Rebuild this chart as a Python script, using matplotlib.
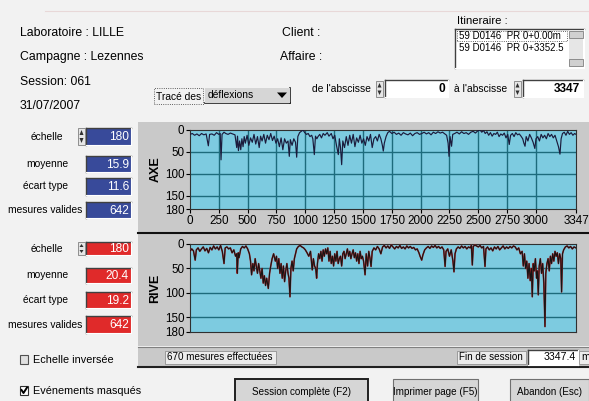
import matplotlib
matplotlib.use("Agg")
import matplotlib.pyplot as plt
from matplotlib.patches import Rectangle, Polygon

# ---------------- data ----------------
axe_x = [0, 20, 40, 60, 80, 100, 120, 140, 159, 170, 190, 210, 230, 250, 262, 269, 278, 295, 310, 330,
         350, 370, 390, 405, 412, 420, 430, 440, 450, 460, 470, 480, 495, 510, 525, 540, 555, 570, 585, 600,
         612, 625, 640, 655, 670, 685, 700, 715, 730, 745, 760, 775, 790, 805, 820, 835, 850, 861, 870, 885,
         900, 915, 925, 935, 950, 965, 980, 995, 1010, 1025, 1040, 1055, 1065, 1078, 1088, 1100, 1110, 1125, 1140, 1155,
         1170, 1190, 1205, 1225, 1240, 1255, 1270, 1286, 1295, 1305, 1315, 1325, 1340, 1355, 1370, 1385, 1400, 1415, 1430, 1445,
         1460, 1475, 1490, 1505, 1520, 1535, 1550, 1565, 1580, 1595, 1610, 1625, 1640, 1655, 1668, 1676, 1685, 1700, 1715, 1730,
         1750, 1770, 1790, 1810, 1830, 1850, 1870, 1890, 1910, 1930, 1950, 1970, 1990, 2010, 2030, 2050, 2070, 2090, 2110, 2130,
         2150, 2170, 2190, 2210, 2225, 2238, 2246, 2255, 2268, 2278, 2295, 2315, 2335, 2355, 2375, 2395, 2415, 2435, 2455, 2475,
         2495, 2515, 2530, 2545, 2560, 2575, 2590, 2605, 2620, 2635, 2650, 2665, 2680, 2695, 2710, 2725, 2740, 2755, 2768, 2780,
         2795, 2810, 2825, 2840, 2855, 2870, 2885, 2895, 2905, 2915, 2930, 2945, 2960, 2975, 2990, 3000, 3015, 3030, 3045, 3060,
         3075, 3090, 3105, 3120, 3135, 3150, 3165, 3180, 3195, 3208, 3218, 3230, 3245, 3260, 3275, 3290, 3305, 3320, 3335, 3347]
axe_y = [10, 8, 12, 9, 13, 8, 11, 9, 36, 10, 9, 12, 6, 10, 8, 68, 10, 5, 8, 10,
         7, 9, 11, 40, 14, 47, 25, 45, 20, 38, 15, 30, 12, 35, 18, 28, 10, 32, 15, 40,
         14, 25, 10, 30, 12, 22, 8, 24, 14, 30, 20, 38, 18, 45, 20, 30, 25, 60, 22, 35,
         20, 28, 62, 15, 6, 3, 0, 6, 10, 8, 15, 12, 20, 56, 14, 20, 15, 10, 18, 8,
         12, 6, 14, 8, 20, 12, 35, 56, 20, 40, 79, 25, 40, 15, 35, 12, 30, 10, 38, 18,
         28, 12, 30, 20, 35, 15, 25, 10, 40, 20, 15, 25, 10, 20, 35, 48, 30, 15, 6, 3,
         8, 5, 10, 7, 12, 6, 9, 11, 7, 13, 8, 6, 10, 8, 5, 9, 6, 11, 5, 8,
         4, 7, 5, 9, 12, 30, 60, 15, 37, 10, 8, 5, 9, 4, 8, 6, 10, 5, 3, 7,
         2, 0, 5, 1, 8, 4, 12, 6, 14, 8, 10, 5, 15, 9, 12, 7, 18, 10, 33, 12,
         8, 15, 6, 11, 9, 14, 20, 30, 37, 15, 25, 10, 18, 28, 42, 20, 15, 25, 10, 18,
         12, 20, 8, 15, 10, 18, 12, 25, 38, 55, 20, 8, 5, 12, 3, 10, 6, 12, 8, 10]

rive_x = [0, 15, 30, 45, 55, 70, 85, 100, 115, 130, 145, 160, 175, 190, 205, 220, 235, 250, 265, 280,
          295, 305, 320, 335, 350, 365, 380, 395, 405, 410, 418, 425, 440, 455, 470, 485, 500, 515, 525, 534,
          545, 555, 565, 575, 585, 595, 605, 615, 625, 635, 645, 655, 665, 679, 690, 700, 712, 725, 740, 750,
          760, 770, 780, 790, 800, 810, 820, 830, 840, 850, 858, 867, 875, 885, 895, 905, 915, 925, 940, 955,
          970, 985, 1000, 1015, 1030, 1045, 1060, 1070, 1080, 1090, 1098, 1105, 1115, 1125, 1135, 1145, 1155, 1165, 1175, 1185,
          1195, 1205, 1215, 1225, 1235, 1245, 1255, 1265, 1275, 1285, 1295, 1305, 1315, 1325, 1335, 1345, 1355, 1365, 1375, 1385,
          1395, 1405, 1415, 1425, 1435, 1445, 1455, 1465, 1475, 1485, 1495, 1505, 1518, 1528, 1540, 1550, 1560, 1570, 1580, 1595,
          1610, 1625, 1640, 1655, 1670, 1685, 1700, 1715, 1730, 1745, 1760, 1775, 1790, 1805, 1820, 1835, 1850, 1865, 1880, 1895,
          1910, 1925, 1940, 1955, 1970, 1985, 1995, 2009, 2020, 2035, 2050, 2065, 2080, 2095, 2110, 2125, 2140, 2155, 2170, 2185,
          2200, 2212, 2220, 2235, 2250, 2265, 2280, 2289, 2298, 2310, 2325, 2340, 2355, 2370, 2385, 2400, 2415, 2430, 2440, 2448,
          2456, 2470, 2485, 2500, 2515, 2530, 2545, 2558, 2566, 2580, 2595, 2610, 2625, 2640, 2655, 2670, 2685, 2700, 2715, 2730,
          2745, 2760, 2775, 2790, 2805, 2820, 2835, 2850, 2865, 2880, 2890, 2900, 2910, 2920, 2930, 2940, 2950, 2960, 2968, 2976,
          2985, 2995, 3005, 3012, 3020, 3028, 3038, 3048, 3058, 3068, 3078, 3085, 3095, 3105, 3115, 3125, 3135, 3145, 3155, 3165,
          3175, 3185, 3195, 3205, 3215, 3222, 3230, 3240, 3255, 3270, 3285, 3300, 3315, 3330, 3347]
rive_y = [15, 10, 14, 33, 12, 8, 15, 10, 6, 14, 9, 18, 7, 12, 4, 10, 6, 12, 3, 15,
          40, 8, 6, 10, 8, 18, 12, 25, 20, 60, 18, 28, 10, 5, 8, 4, 10, 20, 35, 63,
          40, 55, 30, 45, 60, 40, 55, 70, 50, 80, 65, 85, 70, 91, 60, 45, 30, 20, 35, 25,
          50, 30, 60, 40, 70, 45, 77, 55, 40, 60, 70, 108, 50, 35, 55, 30, 20, 10, 5, 3,
          6, 8, 12, 18, 25, 15, 53, 30, 45, 50, 70, 40, 20, 30, 15, 35, 12, 25, 10, 20,
          8, 35, 15, 40, 25, 45, 20, 35, 15, 40, 30, 25, 45, 20, 15, 30, 20, 10, 25, 15,
          30, 20, 12, 28, 18, 35, 20, 40, 15, 30, 25, 35, 63, 20, 45, 15, 28, 46, 15, 8,
          12, 5, 10, 20, 6, 3, 8, 4, 9, 2, 6, 10, 5, 8, 3, 9, 6, 10, 4, 8,
          5, 9, 7, 12, 10, 18, 25, 33, 22, 12, 8, 5, 9, 4, 7, 3, 8, 5, 9, 6,
          12, 46, 15, 10, 25, 12, 35, 57, 20, 10, 6, 9, 4, 8, 5, 10, 6, 8, 3, 43,
          5, 2, 4, 6, 3, 8, 5, 46, 10, 6, 12, 8, 14, 6, 10, 5, 12, 8, 4, 10,
          6, 9, 5, 8, 4, 6, 12, 8, 20, 15, 45, 20, 50, 35, 70, 40, 75, 50, 108, 40,
          55, 30, 70, 55, 104, 45, 30, 60, 40, 80, 169, 60, 40, 30, 55, 25, 40, 20, 35, 15,
          25, 18, 40, 20, 30, 98, 20, 12, 6, 4, 8, 5, 10, 6, 8]

x_ticks = [0, 250, 500, 750, 1000, 1250, 1500, 1750, 2000, 2250, 2500, 2750, 3000, 3347]
y_ticks = [0, 50, 100, 150, 180]
x_max = 3347
y_max = 180

# ---------------- figure helpers ----------------
W, H = 589, 401
fig = plt.figure(figsize=(W / 100, H / 100), dpi=100)
fig.patch.set_facecolor('#f2f2f2')
FONT = 'Liberation Sans'


def fx(x):
    return x / W


def fy(y):
    return 1 - y / H


def rect(x0, y0, x1, y1, fc='none', ec='none', lw=0.8, ls='-', z=1):
    r = Rectangle((fx(x0), fy(y1)), (x1 - x0) / W, (y1 - y0) / H, transform=fig.transFigure,
                  facecolor=fc, edgecolor=ec, linewidth=lw, linestyle=ls, zorder=z)
    fig.patches.append(r)
    return r


def hline(x0, x1, y, color='black', lw=1.0, z=2):
    fig.add_artist(plt.Line2D([fx(x0), fx(x1)], [fy(y), fy(y)], transform=fig.transFigure,
                              color=color, lw=lw, zorder=z))


def vline(x, y0, y1, color='black', lw=1.0, z=2):
    fig.add_artist(plt.Line2D([fx(x), fx(x)], [fy(y0), fy(y1)], transform=fig.transFigure,
                              color=color, lw=lw, zorder=z))


def txt(x, y, s, ha='left', va='center', size=7.6, color='black', weight='normal', z=5, rot=0):
    fig.text(fx(x), fy(y), s, ha=ha, va=va, fontsize=size, color=color, fontweight=weight,
             family=[FONT, 'DejaVu Sans'], zorder=z, rotation=rot)


def sunken(x0, y0, x1, y1, fc='white'):
    rect(x0, y0, x1, y1, fc=fc, ec='none', z=2)
    hline(x0, x1, y0, color='#404040', lw=1.0, z=3)
    vline(x0, y0, y1, color='#404040', lw=1.0, z=3)
    hline(x0, x1, y1, color='#ffffff', lw=0.8, z=3)
    vline(x1, y0, y1, color='#ffffff', lw=0.8, z=3)


def spinner(x, y0, y1):
    rect(x, y0, x + 7, y1, fc='#e6e6e6', ec='#808080', lw=0.6, z=3)
    ym = (y0 + y1) / 2
    fig.patches.append(Polygon([[fx(x + 1.5), fy(ym - 1.5)], [fx(x + 5.5), fy(ym - 1.5)], [fx(x + 3.5), fy(y0 + 2)]],
                               closed=True, transform=fig.transFigure, facecolor='#303030', edgecolor='none', zorder=4))
    fig.patches.append(Polygon([[fx(x + 1.5), fy(ym + 1.5)], [fx(x + 5.5), fy(ym + 1.5)], [fx(x + 3.5), fy(y1 - 2)]],
                               closed=True, transform=fig.transFigure, facecolor='#303030', edgecolor='none', zorder=4))


# ---------------- header ----------------
hline(45, 589, 11, color='#e8d8d8', lw=0.8)
HS = 8.8
txt(20, 33, 'Laboratoire : LILLE', size=HS)
txt(20, 57, 'Campagne : Lezennes', size=HS)
txt(20, 82, 'Session: 061', size=HS)
txt(20, 106, '31/07/2007', size=HS)
txt(282, 33, 'Client :', size=HS)
txt(280, 57, 'Affaire :', size=HS)
txt(457, 21, 'Itineraire :', size=8.2)

# itinerary listbox
sunken(455, 29, 584, 68)
rect(457, 30.5, 567, 41, fc='none', ec='#303030', lw=0.6, ls=':', z=4)
txt(459, 36, '59 D0146  PR 0+0.00m', size=7.0)
txt(459, 48, '59 D0146  PR 0+3352.5', size=7.0)
rect(569, 30, 583, 67, fc='#e6e6e6', ec='none', z=3)
rect(569, 31, 583, 38, fc='#d0d0d0', ec='#808080', lw=0.6, z=4)
rect(569, 59, 583, 66, fc='#d0d0d0', ec='#808080', lw=0.6, z=4)

# trace selector
rect(154, 88, 203, 104, fc='none', ec='#303030', lw=0.6, ls=':', z=3)
txt(156, 96.5, 'Tracé des', size=7.4)
rect(205, 88, 290, 103, fc='#d6d6d6', ec='none', z=2)
hline(205, 290, 103, color='#202020', lw=1.2)
vline(290, 88, 103, color='#202020', lw=1.2)
txt(208, 95.5, 'déflexions', size=7.4)
fig.patches.append(Polygon([[fx(277), fy(92.5)], [fx(287), fy(92.5)], [fx(282), fy(98)]], closed=True,
                           transform=fig.transFigure, facecolor='black', edgecolor='none', zorder=4))

txt(312, 89, "de l'abscisse", size=7.4)
spinner(376, 81, 97)
sunken(385, 80, 448, 97)
txt(445, 89, '0', ha='right', weight='bold', size=8.6)
txt(454, 89, "à l'abscisse", size=7.4)
spinner(514, 81, 97)
sunken(523, 80, 583, 97)
txt(580, 89, '3347', ha='right', weight='bold', size=8.6)

# ---------------- left statistic boxes ----------------
BLUE = '#384a9a'
RED = '#e02a2a'
stat_labels = ['échelle', 'moyenne', 'écart type', 'mesures valides']
axe_stats = ['180', '15.9', '11.6', '642']
rive_stats = ['180', '20.4', '19.2', '642']
axe_rows = [(128, 145), (156, 172), (178, 195), (202, 218)]
rive_rows = [(242, 255), (268, 283), (292, 308), (316, 333)]
label_right = [63, 68, 68, 82]

for rows, vals, col in [(axe_rows, axe_stats, BLUE), (rive_rows, rive_stats, RED)]:
    for i, ((y0, y1), v) in enumerate(zip(rows, vals)):
        ym = (y0 + y1) / 2
        txt(label_right[i], ym, stat_labels[i], ha='right', size=7.4)
        sunken(86, y0, 131, y1, fc=col)
        txt(129, ym + 0.5, v, ha='right', color='white', size=8.6)
        if i == 0:
            spinner(78, y0, y1)

# ---------------- chart panels ----------------
rect(138, 122, 589, 232, fc='#c9c9c9', z=0.5)
hline(138, 589, 232.5, color='#101010', lw=1.5)
rect(138, 234, 589, 346, fc='#c9c9c9', z=0.5)
rect(138, 347, 589, 366, fc='#c9c9c9', z=0.5)
hline(138, 589, 347, color='#808080', lw=0.8)
hline(138, 589, 367, color='#202020', lw=1.5)

AX_BG = '#7dcbe0'
GRID = '#1d6b7c'


def style_axis(ax, show_x):
    ax.set_zorder(3)
    ax.set_facecolor(AX_BG)
    ax.set_xlim(0, x_max)
    ax.set_ylim(y_max, 0)
    ax.set_yticks(y_ticks)
    ax.set_yticklabels([str(t) for t in y_ticks], family=FONT, fontsize=8.4)
    for sp in ax.spines.values():
        sp.set_color('#303030')
        sp.set_linewidth(0.8)
    ax.tick_params(axis='y', length=3, width=0.8, pad=1, colors='black')
    for t in [50, 100, 150]:
        ax.axhline(t, color=GRID, lw=1.0, zorder=1)
    if show_x:
        ax.set_xticks(x_ticks)
        ax.set_xticklabels([str(t) for t in x_ticks], family=FONT, fontsize=8.4)
        ax.tick_params(axis='x', length=3, width=0.8, pad=1.5)
        for t in x_ticks[1:-1]:
            ax.axvline(t, color=GRID, lw=1.0, zorder=1)
    else:
        ax.set_xticks([])


ax1 = fig.add_axes([fx(190), fy(209), 386 / W, 79 / H])
style_axis(ax1, True)
ax1.plot(axe_x, axe_y, color='#1b1b3c', lw=0.85, zorder=3)
ax1.text(-0.09, 0.5, 'AXE', transform=ax1.transAxes, rotation=90, ha='center', va='center',
         family=FONT, fontsize=9, fontweight='bold')

ax2 = fig.add_axes([fx(190), fy(332), 386 / W, 88 / H])
style_axis(ax2, False)
ax2.plot(rive_x, rive_y, color='#b02428', lw=1.15, zorder=3)
ax2.plot(rive_x, rive_y, color='#151515', lw=0.75, zorder=4)
ax2.text(-0.09, 0.5, 'RIVE', transform=ax2.transAxes, rotation=90, ha='center', va='center',
         family=FONT, fontsize=9, fontweight='bold')

# ---------------- status bar ----------------
rect(165, 351, 276, 364, fc='#ececec', ec='#909090', lw=0.6, z=2)
txt(167, 357.5, '670 mesures effectuées', size=7.1)
rect(457, 351, 526, 364, fc='#ececec', ec='#909090', lw=0.6, z=2)
txt(459, 357.5, 'Fin de session', size=7.1)
sunken(528, 350, 578, 365)
txt(576, 357.5, '3347.4', ha='right', size=7.6)
rect(579, 351, 589, 364, fc='#ececec', ec='#909090', lw=0.6, z=2)
txt(581, 357.5, 'm', size=7.4)

# ---------------- checkboxes ----------------
rect(20, 355, 28, 364, fc='#e0e0e0', ec='#505050', lw=0.8, z=2)
txt(33, 360, 'Echelle inversée', size=7.8)
rect(20, 386, 28, 395, fc='white', ec='#303030', lw=0.8, z=2)
fig.add_artist(plt.Line2D([fx(21.5), fx(23.5), fx(27)], [fy(390), fy(393), fy(387.5)],
                          transform=fig.transFigure, color='black', lw=1.4, zorder=4))
txt(33, 391, 'Evénements masqués', size=7.8)

# ---------------- buttons ----------------
for x0, x1, label, thick in [(235, 368, 'Session complète (F2)', True),
                             (393, 478, 'Imprimer page (F5)', False),
                             (510, 589, 'Abandon (Esc)', False)]:
    rect(x0, 379, x1, 404, fc='#d6d6d6', ec='#202020' if thick else '#707070',
         lw=1.4 if thick else 0.8, z=2)
    txt((x0 + x1) / 2, 392, label, ha='center', size=7.1)

fig.savefig('out.png', dpi=100, facecolor=fig.get_facecolor())
